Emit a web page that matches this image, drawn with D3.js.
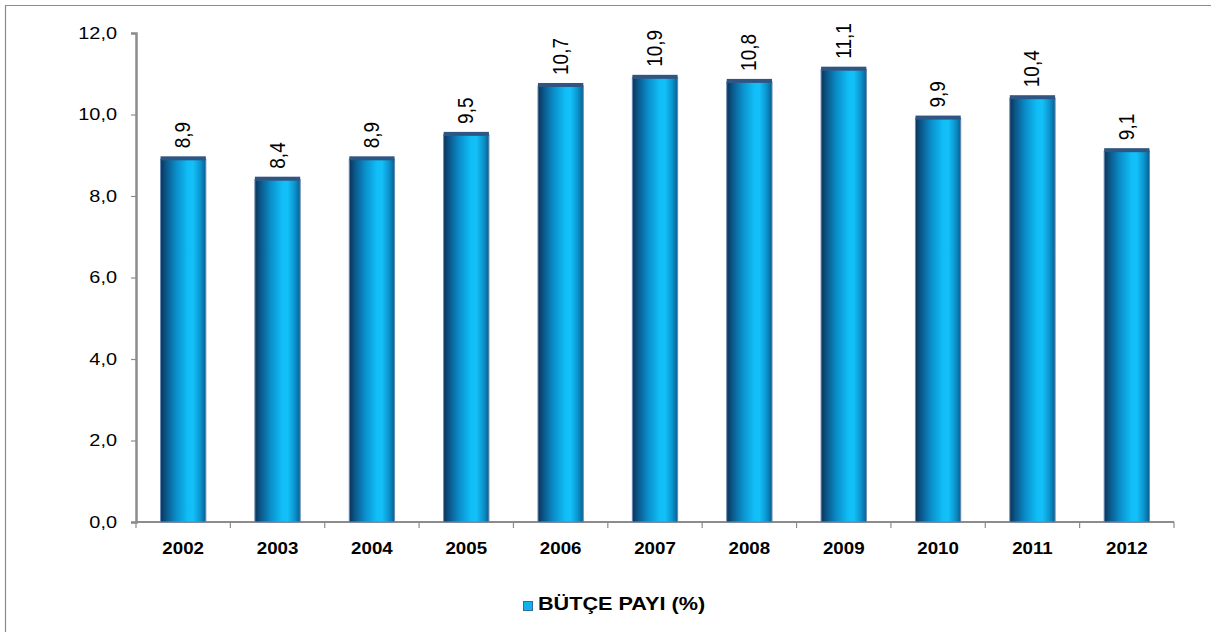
<!DOCTYPE html>
<html>
<head>
<meta charset="utf-8">
<script src="https://cdn.jsdelivr.net/npm/d3@7"></script>
<style>
  html, body { margin: 0; padding: 0; background: #fff; }
  svg { display: block; font-family: "Liberation Sans", Arial, sans-serif; }
</style>
</head>
<body>
<svg id="chart" width="1211" height="632"></svg>
<script>
// Budget share by year (%)
const years = ["2002", "2003", "2004", "2005", "2006", "2007", "2008", "2009", "2010", "2011", "2012"];
const shares = [8.9, 8.4, 8.9, 9.5, 10.7, 10.9, 10.8, 11.1, 9.9, 10.4, 9.1];
const yTicks = [0, 2, 4, 6, 8, 10, 12];
const seriesName = "BÜTÇE PAYI (%)";

const svg = d3.select("#chart");
const margin = { left: 136, right: 1174, top: 33, bottom: 522 };
const stretch = 1.17; // text is drawn slightly wide

const fmt = v => d3.format(".1f")(v).replace(".", ",");

// Outer frame (only top and left edges fall inside the view)
svg.append("path")
  .attr("d", "M5.5,640V5.5H1220")
  .attr("fill", "none")
  .attr("stroke", "#8c8c8c")
  .attr("stroke-width", 1.2);

const x = d3.scaleBand().domain(years).range([margin.left, margin.right]).paddingInner(0.52).paddingOuter(0.26);
const xb = d3.scaleBand().domain(years).range([margin.left, margin.right]);
const y = d3.scaleLinear().domain([0, 12]).range([margin.bottom, margin.top]);

// Cylinder-like horizontal gradient for bars
const defs = svg.append("defs");
const grad = defs.append("linearGradient").attr("id", "barGrad").attr("x1", "0").attr("x2", "1").attr("y1", "0").attr("y2", "0");
[[0, "#0a3358"], [0.12, "#0b5688"], [0.35, "#0a8fcb"], [0.6, "#10bdf6"], [0.72, "#14c0f8"], [0.88, "#0b93cd"], [1, "#08608f"]]
  .forEach(([o, c]) => grad.append("stop").attr("offset", o).attr("stop-color", c));

// Y axis
const yAxis = d3.axisLeft(y).tickValues(yTicks).tickFormat(fmt).tickSize(5).tickPadding(0);
const gy = svg.append("g").attr("transform", `translate(${margin.left},0)`).call(yAxis);
gy.select(".domain").attr("stroke", "#8c8c8c").attr("stroke-width", 2.5);
gy.selectAll(".tick line").attr("stroke", "#8c8c8c").attr("stroke-width", 1.2);
gy.selectAll(".tick text")
  .attr("x", 0)
  .attr("transform", `translate(-19,0) scale(${stretch},1)`)
  .attr("font-size", 17).attr("fill", "#000")
  .attr("font-family", "Liberation Sans, Arial, sans-serif");

// X axis with ticks at category boundaries
const gx = svg.append("g").attr("transform", `translate(0,${margin.bottom})`);
gx.append("line").attr("x1", margin.left).attr("x2", margin.right)
  .attr("stroke", "#8c8c8c").attr("stroke-width", 2);
gx.selectAll("line.b").data(years.concat(["end"])).join("line").attr("class", "b")
  .attr("x1", (d, i) => i < years.length ? xb(d) : margin.right)
  .attr("x2", (d, i) => i < years.length ? xb(d) : margin.right)
  .attr("y1", 0).attr("y2", 6)
  .attr("stroke", "#8c8c8c").attr("stroke-width", 1.2);
gx.selectAll("text").data(years).join("text")
  .attr("transform", d => `translate(${xb(d) + xb.bandwidth() / 2},32) scale(${stretch},1)`)
  .attr("text-anchor", "middle")
  .attr("font-size", 16).attr("font-weight", "bold")
  .text(d => d);

// Bars
const bars = svg.append("g");
bars.selectAll("rect").data(shares).join("rect")
  .attr("x", (d, i) => x(years[i]))
  .attr("width", x.bandwidth())
  .attr("y", d => y(d))
  .attr("height", d => y(0) - y(d))
  .attr("fill", "url(#barGrad)")
  .attr("stroke", "#6a88b2")
  .attr("stroke-width", 1);
// Dark top cap of each cylinder
bars.selectAll("rect.cap").data(shares).join("rect").attr("class", "cap")
  .attr("x", (d, i) => x(years[i]))
  .attr("width", x.bandwidth())
  .attr("y", d => y(d) - 3)
  .attr("height", 4)
  .attr("fill", "#2f5683");

// Value labels, rotated
svg.append("g").selectAll("text").data(shares).join("text")
  .attr("transform", (d, i) => `translate(${x(years[i]) + x.bandwidth() / 2 + 7},${y(d) - 11}) rotate(-90) scale(1,${stretch})`)
  .attr("font-size", 19)
  .attr("fill", "#000")
  .text(d => fmt(d));

// Legend
const lg = svg.append("g").attr("transform", "translate(523,601)");
lg.append("rect").attr("x", 0.5).attr("y", 0.5).attr("width", 9).attr("height", 9)
  .attr("fill", "#12b2ee").attr("stroke", "#3a6aa0").attr("stroke-width", 1);
lg.append("text")
  .attr("transform", `translate(15,9) scale(${stretch},1)`)
  .attr("font-size", 18.5).attr("font-weight", "bold")
  .text(seriesName);
</script>
</body>
</html>
